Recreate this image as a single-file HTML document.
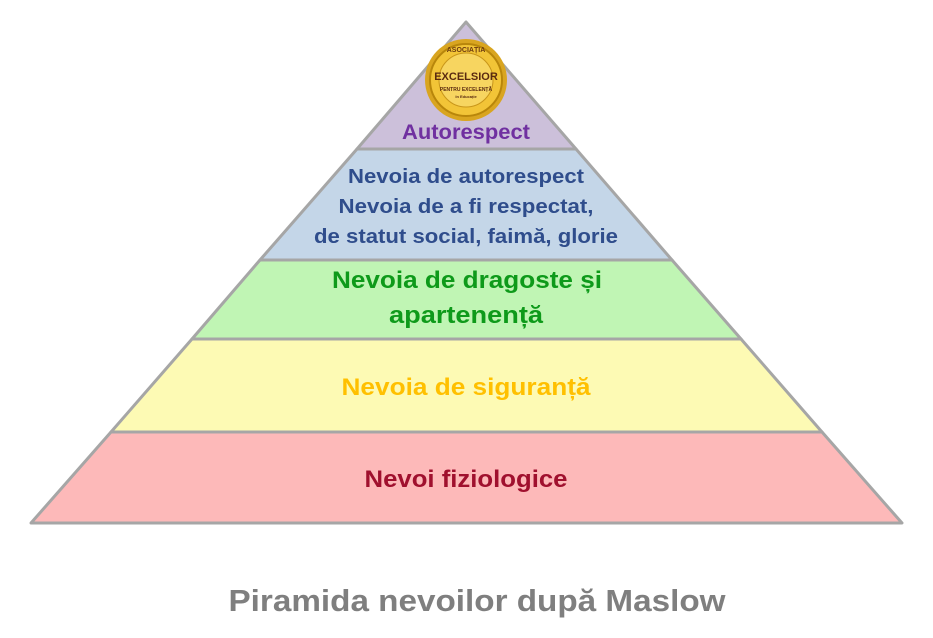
<!DOCTYPE html>
<html><head><meta charset="utf-8"><style>
body{margin:0;background:#fff;width:933px;height:633px;overflow:hidden}
text{font-family:"Liberation Sans",sans-serif;font-weight:bold;text-anchor:middle}
</style></head><body>
<svg width="933" height="633" viewBox="0 0 933 633">
<g stroke="#a6a6a6" stroke-width="3" stroke-linejoin="round">
<polygon points="466,22 357,149 576,149" fill="#ccc0da"/>
<polygon points="357,149 576,149 672,260 260,260" fill="#c4d6e8"/>
<polygon points="260,260 672,260 741,339 192,339" fill="#c0f5b4"/>
<polygon points="192,339 741,339 822,432 111,432" fill="#fdfab4"/>
<polygon points="111,432 822,432 902,523 31,523" fill="#fdb9b9"/>
</g>
<circle cx="466" cy="80" r="41" fill="#d9a520"/>
<circle cx="466" cy="80" r="36" fill="#f2c437" stroke="#b8860b" stroke-width="2"/>
<circle cx="466" cy="80" r="27" fill="#f7d560" stroke="#c9961a"/>
<text x="466" y="52" font-size="7" fill="#6b3a10" font-weight="normal" font-family="Liberation Serif">ASOCIAȚIA</text>
<text x="466" y="80" font-size="11" fill="#5a2a10" font-family="Liberation Serif">EXCELSIOR</text>
<text x="466" y="91" font-size="5" fill="#5a2a10" font-weight="normal">PENTRU EXCELENȚĂ</text>
<text x="466" y="98" font-size="4" fill="#5a2a10" font-weight="normal">în Educație</text>
<text x="466" y="139" font-size="21" fill="#7030a0" textLength="128" lengthAdjust="spacingAndGlyphs">Autorespect</text>
<text x="466" y="183" font-size="20" fill="#2f4d8c" textLength="236" lengthAdjust="spacingAndGlyphs">Nevoia de autorespect</text>
<text x="466" y="213" font-size="20" fill="#2f4d8c" textLength="255" lengthAdjust="spacingAndGlyphs">Nevoia de a fi respectat,</text>
<text x="466" y="243" font-size="20" fill="#2f4d8c" textLength="304" lengthAdjust="spacingAndGlyphs">de statut social, faimă, glorie</text>
<text x="467" y="288" font-size="24" fill="#0e9a1a" textLength="270" lengthAdjust="spacingAndGlyphs">Nevoia de dragoste și</text>
<text x="466" y="323" font-size="24" fill="#0e9a1a" textLength="154" lengthAdjust="spacingAndGlyphs">apartenență</text>
<text x="466" y="395" font-size="24" fill="#ffc000" textLength="249" lengthAdjust="spacingAndGlyphs">Nevoia de siguranță</text>
<text x="466" y="487" font-size="24" fill="#a0102e" textLength="203" lengthAdjust="spacingAndGlyphs">Nevoi fiziologice</text>
<text x="477" y="611" font-size="31" fill="#7f7f7f" textLength="497" lengthAdjust="spacingAndGlyphs">Piramida nevoilor după Maslow</text>
</svg>
</body></html>
